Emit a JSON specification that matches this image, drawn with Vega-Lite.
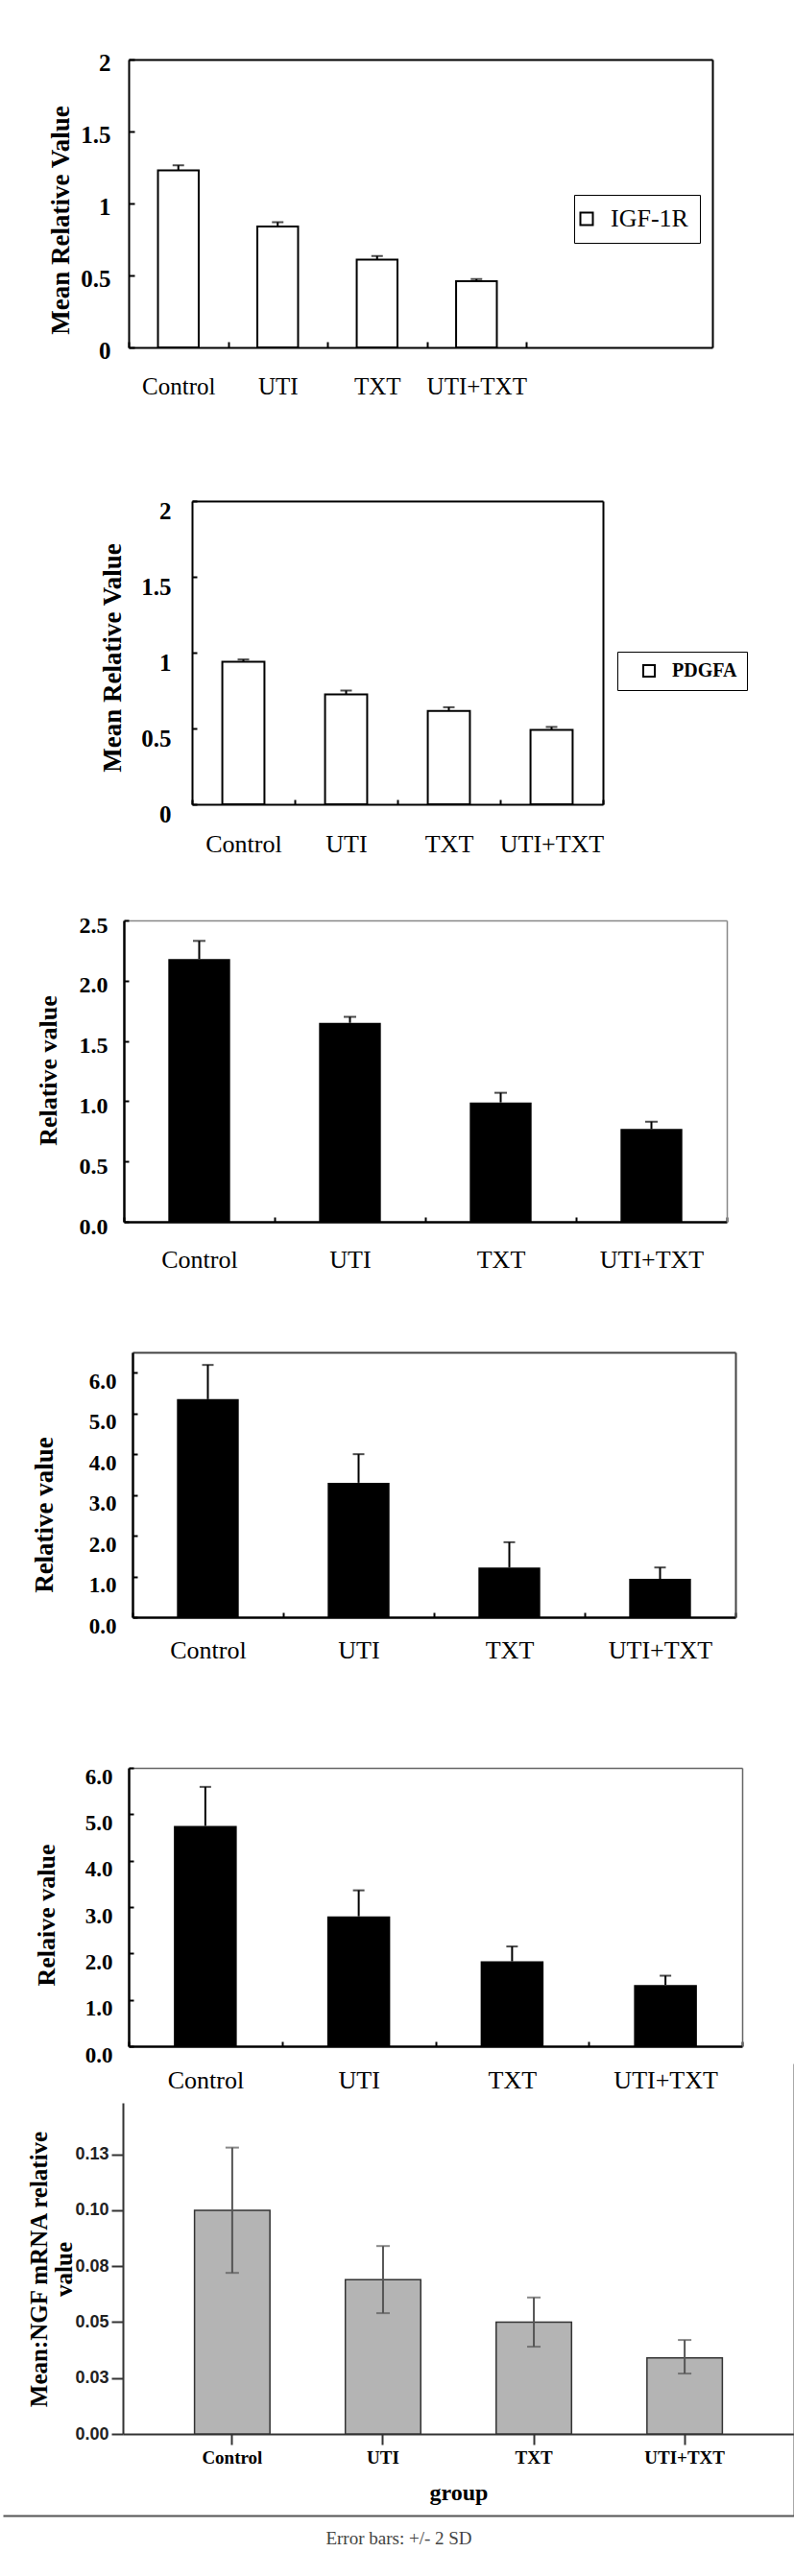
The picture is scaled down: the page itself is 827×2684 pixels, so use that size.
{
  "$schema": "https://vega.github.io/schema/vega-lite/v6.json",
  "background": "white",
  "padding": 0,
  "datasets": {
    "p1": [
      {"group": "Control", "val": 1.23, "hi": 1.265},
      {"group": "UTI", "val": 0.84, "hi": 0.87},
      {"group": "TXT", "val": 0.61, "hi": 0.635},
      {"group": "UTI+TXT", "val": 0.46, "hi": 0.475}
    ],
    "p2": [
      {"group": "Control", "val": 0.94, "hi": 0.955},
      {"group": "UTI", "val": 0.725, "hi": 0.75},
      {"group": "TXT", "val": 0.615, "hi": 0.64},
      {"group": "UTI+TXT", "val": 0.49, "hi": 0.51}
    ],
    "p3": [
      {"group": "Control", "val": 2.18, "hi": 2.33},
      {"group": "UTI", "val": 1.65, "hi": 1.7},
      {"group": "TXT", "val": 0.99, "hi": 1.07},
      {"group": "UTI+TXT", "val": 0.77, "hi": 0.83}
    ],
    "p4": [
      {"group": "Control", "val": 5.35, "hi": 6.19},
      {"group": "UTI", "val": 3.3, "hi": 4.0},
      {"group": "TXT", "val": 1.22, "hi": 1.84},
      {"group": "UTI+TXT", "val": 0.94, "hi": 1.22}
    ],
    "p5": [
      {"group": "Control", "val": 4.75, "hi": 5.59},
      {"group": "UTI", "val": 2.8, "hi": 3.36},
      {"group": "TXT", "val": 1.83, "hi": 2.15},
      {"group": "UTI+TXT", "val": 1.32, "hi": 1.52}
    ],
    "p6": [
      {"group": "Control", "val": 0.1, "lo": 0.072, "hi": 0.128},
      {"group": "UTI", "val": 0.069, "lo": 0.054, "hi": 0.084},
      {"group": "TXT", "val": 0.05, "lo": 0.039, "hi": 0.061},
      {"group": "UTI+TXT", "val": 0.034, "lo": 0.027, "hi": 0.042}
    ],
    "frame": [{"f": 0}, {"f": 1}]
  },
  "bounds": "flush",
  "spacing": 0,
  "resolve": {"scale": {"fill": "independent"}, "legend": {"fill": "independent"}},
  "vconcat": [
    {"width": 1, "height": 62, "data": {"values": []}, "mark": "point"},
    {
      "width": 739, "height": 300,
      "data": {"name": "p1"},
      "resolve": {"axis": {"x": "independent", "y": "independent"}},
      "layer": [
        {
          "mark": {"type": "bar", "stroke": "black", "strokeWidth": 2, "width": {"band": 0.41}},
          "encoding": {
            "x": {"field": "group", "type": "nominal", "sort": null,
              "scale": {"domain": ["Control", "UTI", "TXT", "UTI+TXT"], "range": [131, 739], "paddingInner": 0, "paddingOuter": 0.937, "align": 0},
              "axis": {"orient": "bottom", "title": null, "labelAngle": 0, "labelFontSize": 25, "labelBaseline": "middle", "labelPadding": 46, "tickBand": "extent", "tickSize": -6, "tickWidth": 2, "domainWidth": 2}},
            "y": {"field": "val", "type": "quantitative", "scale": {"domain": [0, 2], "nice": false},
              "axis": {"orient": "left", "offset": -131, "values": [0, 0.5, 1, 1.5, 2], "format": "~g", "labelFontSize": 25, "labelFontWeight": "bold", "labelPadding": 25, "labelOffset": 3, "tickSize": -6, "tickWidth": 2, "domainWidth": 2,
                "title": "Mean Relative Value", "titleFontSize": 27, "titleFontWeight": "bold", "titleX": -71, "titleY": 167, "titleAngle": -90, "titleBaseline": "middle", "titleAlign": "center"}},
            "fill": {"datum": "IGF-1R", "type": "nominal", "scale": {"range": ["white"]},
              "legend": {"orient": "none", "legendX": 595, "legendY": 141, "title": null, "strokeColor": "black", "padding": 12, "symbolType": "square", "symbolSize": 169, "symbolStrokeColor": "black", "symbolStrokeWidth": 2, "symbolFillColor": "white", "symbolOffset": -12, "labelFont": "Liberation Serif", "labelFontSize": 26, "labelFontWeight": "normal", "labelColor": "black", "labelOffset": 12, "labelExpr": "datum.label + '    '"}}
          }
        },
        {
          "mark": {"type": "rule", "color": "black", "strokeWidth": 2},
          "encoding": {
            "x": {"field": "group", "type": "nominal", "sort": null,
              "axis": {"orient": "top", "labels": false, "ticks": false, "title": null, "domainWidth": 2}},
            "y": {"field": "val", "type": "quantitative", "scale": {"domain": [0, 2], "nice": false},
              "axis": {"orient": "right", "labels": false, "ticks": false, "title": null, "domainWidth": 2}},
            "y2": {"field": "hi"}
          }
        },
        {
          "mark": {"type": "tick", "orient": "horizontal", "color": "black", "size": 12, "thickness": 2},
          "encoding": {
            "x": {"field": "group", "type": "nominal", "sort": null, "axis": null},
            "y": {"field": "hi", "type": "quantitative", "scale": {"domain": [0, 2], "nice": false}, "axis": null}
          }
        }
      ]
    },
    {"width": 1, "height": 160, "data": {"values": []}, "mark": "point"},
    {
      "width": 625, "height": 316,
      "data": {"name": "p2"},
      "resolve": {"axis": {"x": "independent", "y": "independent"}},
      "layer": [
        {
          "mark": {"type": "bar", "stroke": "black", "strokeWidth": 2, "width": {"band": 0.41}},
          "encoding": {
            "x": {"field": "group", "type": "nominal", "sort": null,
              "scale": {"domain": ["Control", "UTI", "TXT", "UTI+TXT"], "range": [197, 625], "paddingInner": 0, "paddingOuter": 0},
              "axis": {"orient": "bottom", "title": null, "labelAngle": 0, "labelFontSize": 26, "labelBaseline": "middle", "labelPadding": 46, "tickBand": "extent", "tickSize": -5, "tickWidth": 2, "domainWidth": 2}},
            "y": {"field": "val", "type": "quantitative", "scale": {"domain": [0, 2], "nice": false},
              "axis": {"orient": "left", "offset": -197, "values": [0, 0.5, 1, 1.5, 2], "format": "~g", "labelFontSize": 25, "labelFontWeight": "bold", "labelPadding": 27, "labelOffset": 10, "tickSize": -5, "tickWidth": 2, "domainWidth": 2,
                "title": "Mean Relative Value", "titleFontSize": 27, "titleFontWeight": "bold", "titleX": -83, "titleY": 163, "titleAngle": -90, "titleBaseline": "middle", "titleAlign": "center"}},
            "fill": {"datum": "PDGFA", "type": "nominal", "scale": {"range": ["white"]},
              "legend": {"orient": "none", "legendX": 640, "legendY": 157, "title": null, "strokeColor": "black", "padding": 10, "symbolType": "square", "symbolSize": 144, "symbolStrokeColor": "black", "symbolStrokeWidth": 2, "symbolFillColor": "white", "symbolOffset": 13, "labelFont": "Liberation Serif", "labelFontSize": 20, "labelFontWeight": "bold", "labelColor": "black", "labelOffset": 14}}
          }
        },
        {
          "mark": {"type": "rule", "color": "black", "strokeWidth": 2},
          "encoding": {
            "x": {"field": "group", "type": "nominal", "sort": null,
              "axis": {"orient": "top", "labels": false, "ticks": false, "title": null, "domainWidth": 2}},
            "y": {"field": "val", "type": "quantitative", "scale": {"domain": [0, 2], "nice": false},
              "axis": {"orient": "right", "labels": false, "ticks": false, "title": null, "domainWidth": 2}},
            "y2": {"field": "hi"}
          }
        },
        {
          "mark": {"type": "tick", "orient": "horizontal", "color": "black", "size": 12, "thickness": 2},
          "encoding": {
            "x": {"field": "group", "type": "nominal", "sort": null, "axis": null},
            "y": {"field": "hi", "type": "quantitative", "scale": {"domain": [0, 2], "nice": false}, "axis": null}
          }
        }
      ]
    },
    {"width": 1, "height": 121, "data": {"values": []}, "mark": "point"},
    {
      "width": 754, "height": 314,
      "data": {"name": "p3"},
      "resolve": {"axis": {"x": "independent", "y": "independent"}},
      "layer": [
        {
          "mark": {"type": "bar", "color": "black", "width": {"band": 0.41}},
          "encoding": {
            "x": {"field": "group", "type": "nominal", "sort": null,
              "scale": {"domain": ["Control", "UTI", "TXT", "UTI+TXT"], "range": [126, 754], "paddingInner": 0, "paddingOuter": 0},
              "axis": {"orient": "bottom", "title": null, "labelAngle": 0, "labelFontSize": 26, "labelBaseline": "middle", "labelPadding": 44, "tickBand": "extent", "tickSize": -5, "tickWidth": 2, "domainWidth": 2.5}},
            "y": {"field": "val", "type": "quantitative", "scale": {"domain": [0, 2.5], "nice": false},
              "axis": {"orient": "left", "offset": -126, "values": [0, 0.5, 1, 1.5, 2, 2.5], "format": ".1f", "labelFontSize": 24, "labelFontWeight": "bold", "labelPadding": 22, "labelOffset": 5, "tickSize": -5, "tickWidth": 2, "domainWidth": 2.5,
                "title": "Relative value", "titleFontSize": 26, "titleFontWeight": "bold", "titleX": -79, "titleY": 156, "titleAngle": -90, "titleBaseline": "middle", "titleAlign": "center"}}
          }
        },
        {
          "mark": {"type": "rule", "color": "black", "strokeWidth": 2},
          "encoding": {
            "x": {"field": "group", "type": "nominal", "sort": null,
              "axis": {"orient": "top", "labels": false, "ticks": false, "title": null, "domainColor": "#888888", "domainWidth": 1.5}},
            "y": {"field": "val", "type": "quantitative", "scale": {"domain": [0, 2.5], "nice": false},
              "axis": {"orient": "right", "labels": false, "ticks": false, "title": null, "domainColor": "#888888", "domainWidth": 1.5}},
            "y2": {"field": "hi"}
          }
        },
        {
          "mark": {"type": "tick", "orient": "horizontal", "color": "black", "size": 13, "thickness": 2},
          "encoding": {
            "x": {"field": "group", "type": "nominal", "sort": null, "axis": null},
            "y": {"field": "hi", "type": "quantitative", "scale": {"domain": [0, 2.5], "nice": false}, "axis": null}
          }
        }
      ]
    },
    {"width": 1, "height": 136, "data": {"values": []}, "mark": "point"},
    {
      "width": 763, "height": 276,
      "data": {"name": "p4"},
      "resolve": {"axis": {"x": "independent", "y": "independent"}},
      "layer": [
        {
          "mark": {"type": "bar", "color": "black", "width": {"band": 0.41}},
          "encoding": {
            "x": {"field": "group", "type": "nominal", "sort": null,
              "scale": {"domain": ["Control", "UTI", "TXT", "UTI+TXT"], "range": [135, 763], "paddingInner": 0, "paddingOuter": 0},
              "axis": {"orient": "bottom", "title": null, "labelAngle": 0, "labelFontSize": 26, "labelBaseline": "middle", "labelPadding": 39, "tickBand": "extent", "tickSize": -5, "tickWidth": 2, "domainWidth": 2.5}},
            "y": {"field": "val", "type": "quantitative", "scale": {"domain": [0, 6.5], "nice": false},
              "axis": {"orient": "left", "offset": -135, "values": [0, 1, 2, 3, 4, 5, 6], "format": ".1f", "labelFontSize": 23, "labelFontWeight": "bold", "labelPadding": 22, "labelOffset": 9, "tickSize": -5, "tickWidth": 2, "domainWidth": 2.5,
                "title": "Relative value", "titleFontSize": 27, "titleFontWeight": "bold", "titleX": -92, "titleY": 169, "titleAngle": -90, "titleBaseline": "middle", "titleAlign": "center"}}
          }
        },
        {
          "mark": {"type": "rule", "color": "black", "strokeWidth": 2},
          "encoding": {
            "x": {"field": "group", "type": "nominal", "sort": null,
              "axis": {"orient": "top", "labels": false, "ticks": false, "title": null, "domainColor": "#444444", "domainWidth": 2}},
            "y": {"field": "val", "type": "quantitative", "scale": {"domain": [0, 6.5], "nice": false},
              "axis": {"orient": "right", "labels": false, "ticks": false, "title": null, "domainColor": "#444444", "domainWidth": 2}},
            "y2": {"field": "hi"}
          }
        },
        {
          "mark": {"type": "tick", "orient": "horizontal", "color": "black", "size": 12, "thickness": 2},
          "encoding": {
            "x": {"field": "group", "type": "nominal", "sort": null, "axis": null},
            "y": {"field": "hi", "type": "quantitative", "scale": {"domain": [0, 6.5], "nice": false}, "axis": null}
          }
        }
      ]
    },
    {"width": 1, "height": 157, "data": {"values": []}, "mark": "point"},
    {
      "width": 770, "height": 290,
      "data": {"name": "p5"},
      "resolve": {"axis": {"x": "independent", "y": "independent"}},
      "layer": [
        {
          "mark": {"type": "bar", "color": "black", "width": {"band": 0.41}},
          "encoding": {
            "x": {"field": "group", "type": "nominal", "sort": null,
              "scale": {"domain": ["Control", "UTI", "TXT", "UTI+TXT"], "range": [131, 770], "paddingInner": 0, "paddingOuter": 0},
              "axis": {"orient": "bottom", "title": null, "labelAngle": 0, "labelFontSize": 26, "labelBaseline": "middle", "labelPadding": 40, "tickBand": "extent", "tickSize": -5, "tickWidth": 2, "domainWidth": 2.5}},
            "y": {"field": "val", "type": "quantitative", "scale": {"domain": [0, 6], "nice": false},
              "axis": {"orient": "left", "offset": -131, "values": [0, 1, 2, 3, 4, 5, 6], "format": ".1f", "labelFontSize": 23, "labelFontWeight": "bold", "labelPadding": 22, "labelOffset": 9, "tickSize": -5, "tickWidth": 2, "domainWidth": 2.5,
                "title": "Relaive value", "titleFontSize": 26, "titleFontWeight": "bold", "titleX": -86, "titleY": 153, "titleAngle": -90, "titleBaseline": "middle", "titleAlign": "center"}}
          }
        },
        {
          "mark": {"type": "rule", "color": "black", "strokeWidth": 2},
          "encoding": {
            "x": {"field": "group", "type": "nominal", "sort": null,
              "axis": {"orient": "top", "labels": false, "ticks": false, "title": null, "domainColor": "#666666", "domainWidth": 1.5}},
            "y": {"field": "val", "type": "quantitative", "scale": {"domain": [0, 6], "nice": false},
              "axis": {"orient": "right", "labels": false, "ticks": false, "title": null, "domainColor": "#666666", "domainWidth": 1.5}},
            "y2": {"field": "hi"}
          }
        },
        {
          "mark": {"type": "tick", "orient": "horizontal", "color": "black", "size": 12, "thickness": 2},
          "encoding": {
            "x": {"field": "group", "type": "nominal", "sort": null, "axis": null},
            "y": {"field": "hi", "type": "quantitative", "scale": {"domain": [0, 6], "nice": false}, "axis": null}
          }
        }
      ]
    },
    {"width": 1, "height": 59, "data": {"values": []}, "mark": "point"},
    {
      "width": 824, "height": 345,
      "resolve": {"scale": {"x": "independent", "y": "independent"}, "axis": {"x": "independent", "y": "independent"}},
      "layer": [
        {
          "data": {"name": "p6"},
          "resolve": {"axis": {"x": "independent", "y": "independent"}},
          "layer": [
            {
              "mark": {"type": "bar", "fill": "#b4b4b4", "stroke": "#333333", "strokeWidth": 1.5},
              "encoding": {
                "x": {"field": "group", "type": "nominal", "sort": null,
                  "scale": {"domain": ["Control", "UTI", "TXT", "UTI+TXT"], "range": [125, 824], "paddingInner": 0.5, "paddingOuter": 0.475},
                  "axis": {"orient": "bottom", "labelAngle": 0, "labelFont": "Liberation Serif", "labelFontSize": 19, "labelFontWeight": "bold", "labelBaseline": "middle", "labelPadding": 13, "tickSize": 11, "tickWidth": 2, "tickColor": "#333333", "domainColor": "#333333", "domainWidth": 2,
                    "title": "group", "titleFont": "Liberation Serif", "titleFontSize": 24, "titleFontWeight": "bold", "titleY": 61, "titleBaseline": "middle"}},
                "y": {"field": "val", "type": "quantitative", "scale": {"domain": [0, 0.148], "nice": false},
                  "axis": {"orient": "left", "offset": -125, "values": [0, 0.025, 0.05, 0.075, 0.1, 0.125], "labelExpr": "format(datum.value + 0.0001, '.2f')", "labelFont": "Liberation Sans", "labelFontSize": 18, "labelFontWeight": "bold", "labelColor": "#222222", "labelPadding": 3, "tickSize": 12, "tickWidth": 2, "tickColor": "#333333", "domainColor": "#333333", "domainWidth": 2,
                    "title": ["Mean:NGF mRNA relative", "value"], "titleFont": "Liberation Serif", "titleFontSize": 25, "titleFontWeight": "bold", "titleLineHeight": 26, "titleX": -88, "titleY": 173, "titleAngle": -90, "titleBaseline": "middle", "titleAlign": "center"}}
              }
            },
            {
              "mark": {"type": "rule", "color": "#555555", "strokeWidth": 2},
              "encoding": {
                "x": {"field": "group", "type": "nominal", "sort": null, "axis": null},
                "y": {"field": "lo", "type": "quantitative", "scale": {"domain": [0, 0.148], "nice": false}, "axis": null},
                "y2": {"field": "hi"}
              }
            },
            {
              "mark": {"type": "tick", "orient": "horizontal", "color": "#555555", "size": 14, "thickness": 2},
              "encoding": {
                "x": {"field": "group", "type": "nominal", "sort": null, "axis": null},
                "y": {"field": "hi", "type": "quantitative", "scale": {"domain": [0, 0.148], "nice": false}, "axis": null}
              }
            },
            {
              "mark": {"type": "tick", "orient": "horizontal", "color": "#555555", "size": 14, "thickness": 2},
              "encoding": {
                "x": {"field": "group", "type": "nominal", "sort": null, "axis": null},
                "y": {"field": "lo", "type": "quantitative", "scale": {"domain": [0, 0.148], "nice": false}, "axis": null}
              }
            }
          ]
        },
        {
          "data": {"name": "frame"},
          "mark": {"type": "point", "opacity": 0},
          "encoding": {
            "x": {"field": "f", "type": "quantitative", "scale": {"domain": [0, 1], "range": [0, 824], "nice": false, "zero": false},
              "axis": {"orient": "bottom", "offset": 85, "labels": false, "ticks": false, "domainColor": "#555555", "domainWidth": 2,
                "title": "Error bars: +/- 2 SD", "titleFont": "Liberation Serif", "titleFontSize": 19, "titleFontWeight": "normal", "titleColor": "#444444", "titleY": 23, "titleBaseline": "middle"}},
            "y": {"field": "f", "type": "quantitative", "scale": {"domain": [0, 1], "range": [430, -41], "nice": false, "zero": false},
              "axis": {"orient": "right", "labels": false, "ticks": false, "title": null, "domainColor": "#555555", "domainWidth": 2}}
          }
        }
      ]
    }
  ],
  "config": {
    "view": {"stroke": null},
    "axis": {"grid": false, "domainColor": "black", "tickColor": "black", "labelColor": "black", "titleColor": "black", "labelFont": "Liberation Serif", "titleFont": "Liberation Serif"},
    "legend": {"labelFont": "Liberation Serif"}
  }
}
